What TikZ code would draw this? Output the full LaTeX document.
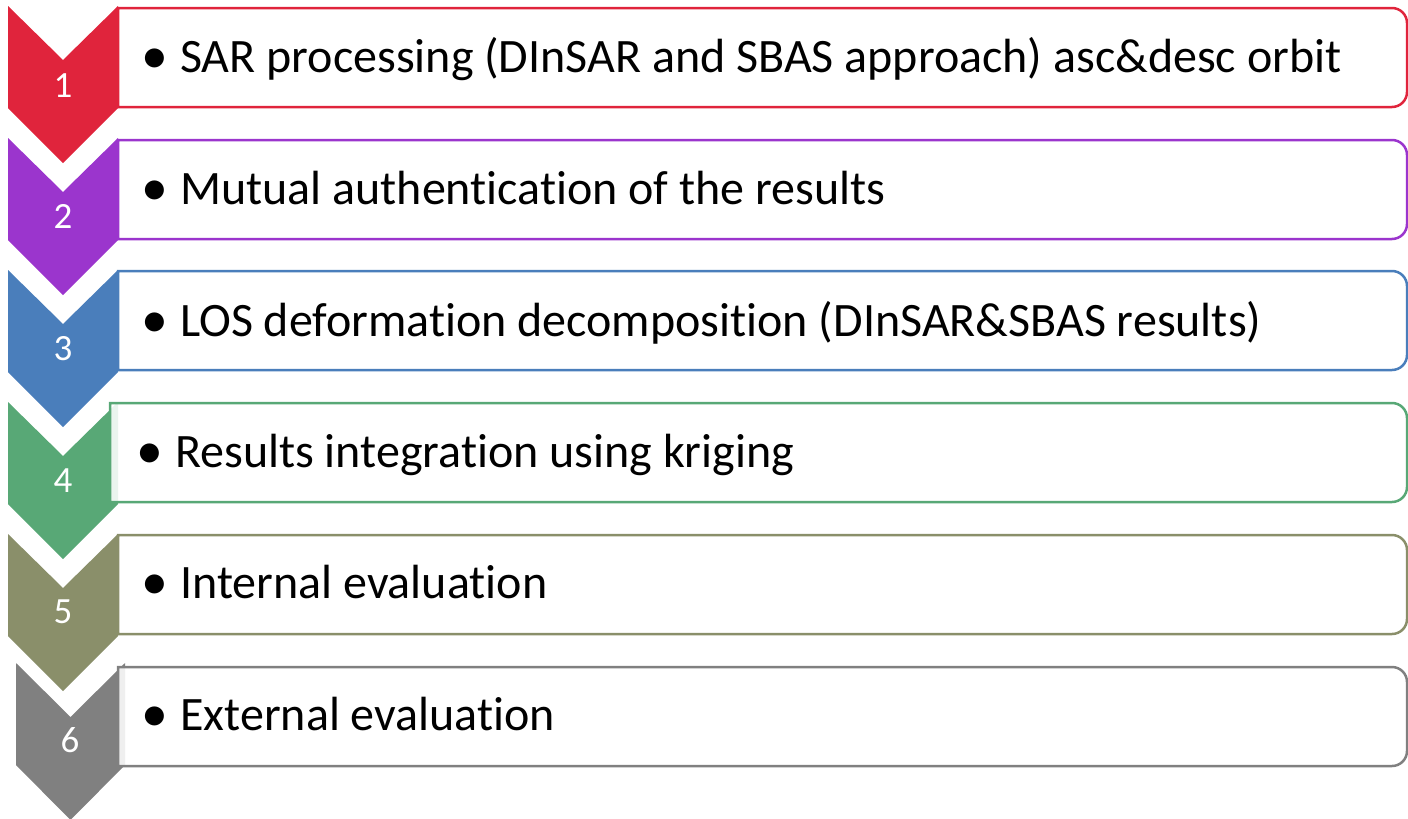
\documentclass[tikz,border=0pt]{standalone}
\usepackage{fontspec}
\setmainfont{Carlito}[Ligatures=NoCommon]
\definecolor{c1}{RGB}{224,36,60}
\definecolor{c2}{RGB}{155,53,205}
\definecolor{c3}{RGB}{74,126,187}
\definecolor{c4}{RGB}{88,168,118}
\definecolor{c5}{RGB}{138,143,106}
\definecolor{c6}{RGB}{128,128,128}
\tikzset{
  stepbox/.style={draw=#1, line width=2.5pt, fill=white, fill opacity=0.88},
  num/.style={text=white, font=\fontsize{37}{37}\selectfont, anchor=base},
  lbl/.style={text=black, font=\fontsize{48}{48}\selectfont, anchor=base west, inner sep=0pt},
}
\newcommand{\bul}{\llap{\raisebox{-1.5pt}{\scalebox{1.12}{\textbullet}}\hspace{12pt}}}
\begin{document}
\begin{tikzpicture}[x=1pt,y=-1pt]
\useasboundingbox (0,0) rectangle (1408,819);
% chevrons
\foreach \i/\xa/\xb/\t in {1/8/118/6, 2/8/118/138, 3/8/118/270, 4/8/118/402, 5/8/118/534, 6/16/125/663}{
  \pgfmathsetmacro{\xm}{(\xa+\xb)/2}
  \pgfmathsetmacro{\tn}{\t+54}
  \pgfmathsetmacro{\ts}{\t+102}
  \pgfmathsetmacro{\tt}{\t+157}
  \fill[c\i] (\xa,\t) -- (\xm,\tn) -- (\xb,\t) -- (\xb,\ts) -- (\xm,\tt) -- (\xa,\ts) -- cycle;
}
% boxes
\foreach \i/\xl/\t in {1/118/8, 2/118/140, 3/118/271, 4/110/403, 5/118/535, 6/118/667}{
  \pgfmathsetmacro{\b}{\t+99}
  \pgfmathsetmacro{\ba}{\t+84}
  \draw[stepbox=c\i] (\xl,\t) -- (1392,\t) arc[start angle=-90,end angle=0,radius=15] -- (1407,\ba) arc[start angle=0,end angle=90,radius=15] -- (\xl,\b) -- cycle;
}
\node[num] (n1) at (63,97) {1};
\node[num] (n2) at (63,228) {2};
\node[num] (n3) at (63,360) {3};
\node[num] (n4) at (63,492) {4};
\node[num] (n5) at (63,623) {5};
\node[num] (n6) at (70,752) {6};
\node[lbl] (t1) at (180,72) {\bul SAR processing (DInSAR and SBAS approach) asc\&desc orbit};
\node[lbl] (t2) at (180,204) {\bul Mutual authentication of the results};
\node[lbl] (t3) at (180,336) {\bul LOS deformation decomposition (DInSAR\&SBAS results)};
\node[lbl] (t4) at (175,467) {\bul Results integration using kriging};
\node[lbl] (t5) at (180,598) {\bul Internal evaluation};
\node[lbl] (t6) at (180,730) {\bul External evaluation};
\end{tikzpicture}
\end{document}
